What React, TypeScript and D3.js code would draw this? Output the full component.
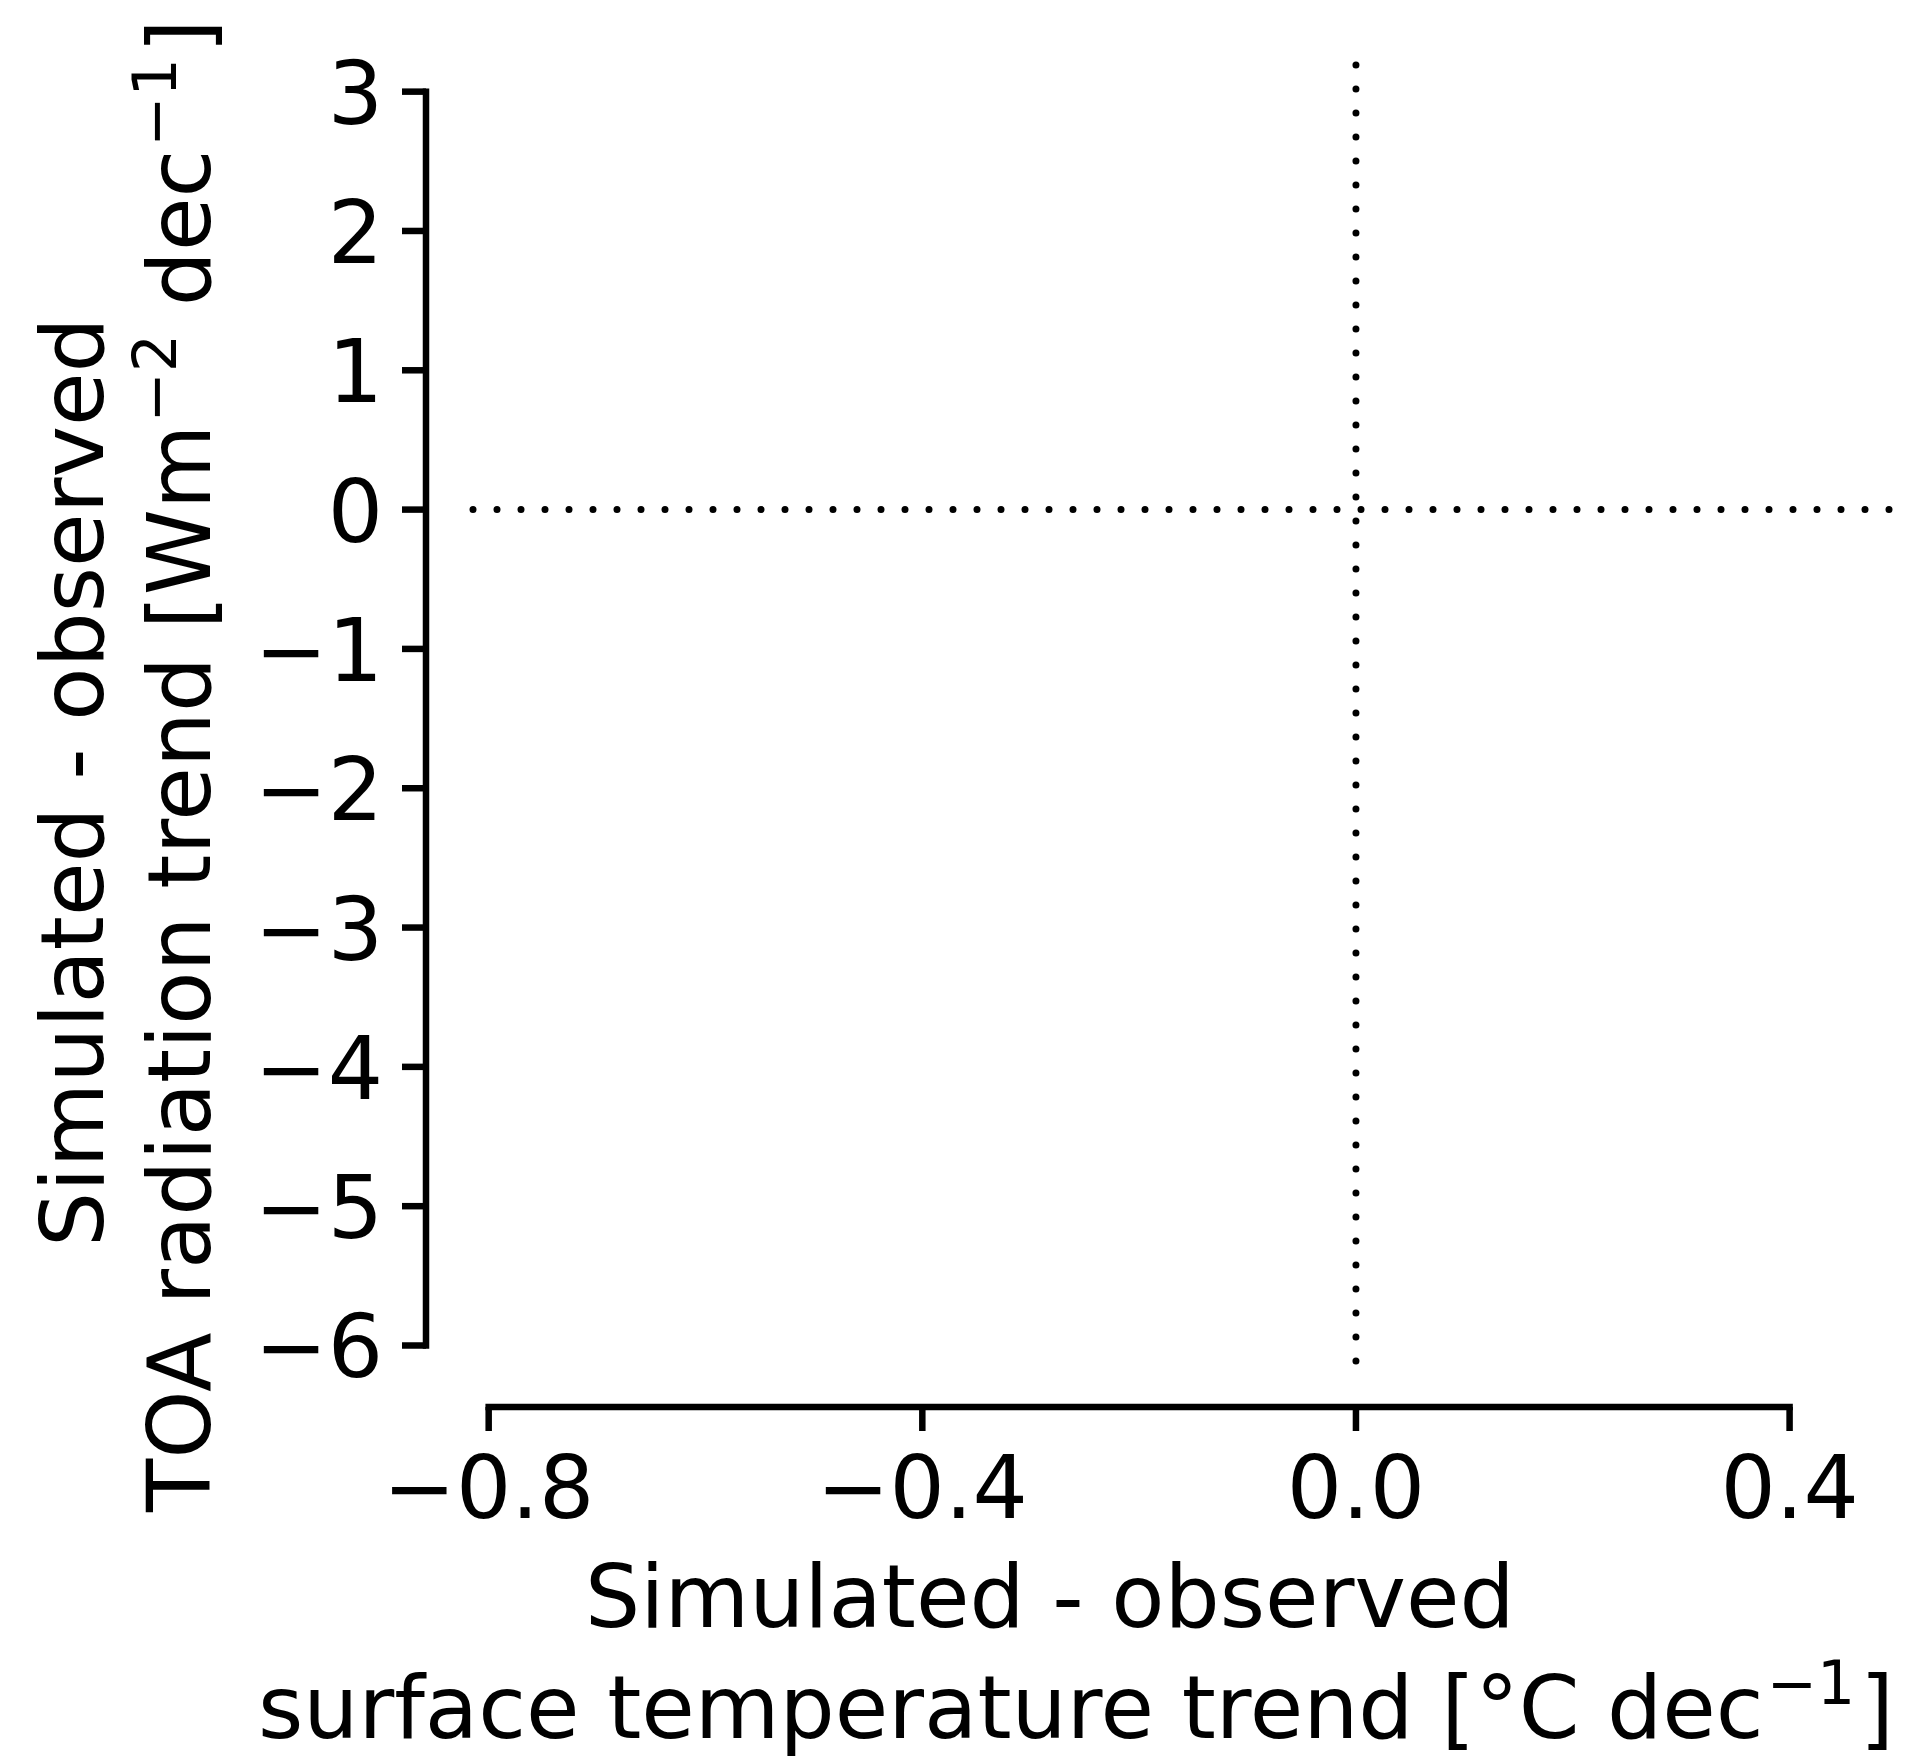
import React from "react";
import * as d3 from "d3";

const xDomain = [-0.82, 0.5];
const yDomain = [-6.14, 3.22];
const xTicks = [-0.8, -0.4, 0.0, 0.4];
const yTicks = [3, 2, 1, 0, -1, -2, -3, -4, -5, -6];
const refX = [0];
const refY = [0];

const W = 1911;
const H = 1757;
const FONT = "'DejaVu Sans', sans-serif";
const FS = 87;
const SUP = 60;

const fmtX = (v: number) => {
  const s = d3.format(".1f")(Math.abs(v));
  return v < 0 ? "\u2212" + s : s;
};
const fmtY = (v: number) => (v < 0 ? "\u2212" + Math.abs(v) : String(v));

export default function App() {
  const x = d3.scaleLinear().domain(xDomain).range([467, 1898]);
  const y = d3.scaleLinear().domain(yDomain).range([1365, 61]);

  const spineX = x.range()[0] - 41; // y-axis spine
  const spineY = y.range()[0] + 42; // x-axis spine
  const lw = 6.5;
  const tickLen = 24;

  const xt0 = x(xTicks[0]);
  const xt1 = x(xTicks[xTicks.length - 1]);
  const yt0 = y(d3.max(yTicks)!);
  const yt1 = y(d3.min(yTicks)!);

  const dotStyle = {
    stroke: "#000",
    strokeWidth: 7,
    strokeLinecap: "round" as const,
    strokeDasharray: "0.01 23.99",
    fill: "none",
  };

  return (
    <svg
      width={W}
      height={H}
      style={{ position: "absolute", left: 0, top: 0, background: "#fff" }}
      fontFamily={FONT}
    >
      <rect x={0} y={0} width={W} height={H} fill="#fff" />

      {/* reference dotted lines */}
      {refY.map((v, i) => (
        <line
          key={"ry" + i}
          x1={x(xDomain[0]) + 6}
          x2={x(xDomain[1])}
          y1={y(v)}
          y2={y(v)}
          {...dotStyle}
        />
      ))}
      {refX.map((v, i) => (
        <line
          key={"rx" + i}
          x1={x(v)}
          x2={x(v)}
          y1={y(yDomain[0]) - 4}
          y2={y(yDomain[1])}
          {...dotStyle}
        />
      ))}

      {/* y axis */}
      <line x1={spineX} x2={spineX} y1={yt0} y2={yt1} stroke="#000" strokeWidth={lw} strokeLinecap="square" />
      {yTicks.map((t) => (
        <g key={"yt" + t}>
          <line x1={spineX - tickLen} x2={spineX} y1={y(t)} y2={y(t)} stroke="#000" strokeWidth={lw} />
          <text x={383} y={y(t) + 32} fontSize={FS} textAnchor="end" fill="#000">
            {fmtY(t)}
          </text>
        </g>
      ))}

      {/* x axis */}
      <line x1={xt0} x2={xt1} y1={spineY} y2={spineY} stroke="#000" strokeWidth={lw} strokeLinecap="square" />
      {xTicks.map((t) => (
        <g key={"xt" + t}>
          <line x1={x(t)} x2={x(t)} y1={spineY} y2={spineY + tickLen} stroke="#000" strokeWidth={lw} />
          <text x={x(t)} y={1518} fontSize={FS} textAnchor="middle" fill="#000">
            {fmtX(t)}
          </text>
        </g>
      ))}

      {/* x label */}
      <text x={585} y={1627} fontSize={FS} fill="#000">
        Simulated - observed
      </text>
      <text x={258} y={1738} fontSize={FS} fill="#000">
        <tspan>surface temperature trend [°C dec</tspan>
        <tspan dx={3} dy={-34} fontSize={SUP}>{"\u22121"}</tspan>
        <tspan dx={5} dy={34}>]</tspan>
      </text>

      {/* y label */}
      <text transform={`translate(103,1247) rotate(-90)`} fontSize={FS} fill="#000">
        Simulated - observed
      </text>
      <text transform={`translate(210,1512) rotate(-90)`} fontSize={FS} fill="#000">
        <tspan>TOA radiation trend [Wm</tspan>
        <tspan dx={2} dy={-34} fontSize={SUP}>{"\u22122"}</tspan>
        <tspan dy={34}> dec</tspan>
        <tspan dx={3} dy={-34} fontSize={SUP}>{"\u22121"}</tspan>
        <tspan dx={5} dy={34}>]</tspan>
      </text>
    </svg>
  );
}
